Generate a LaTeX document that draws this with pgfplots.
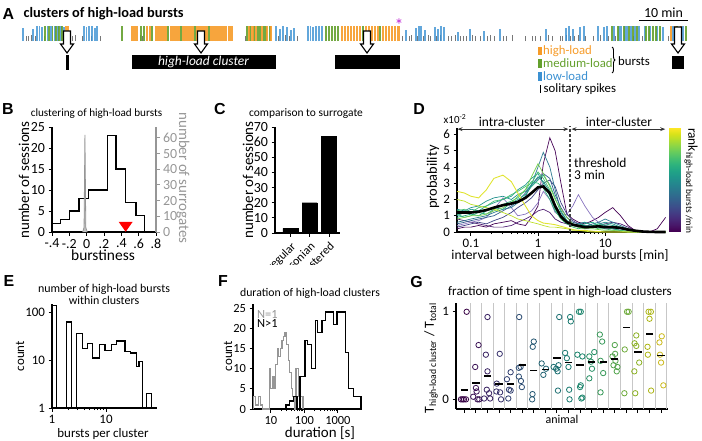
\documentclass[border=0pt]{standalone}
\usepackage{pgfplots}
\pgfplotsset{compat=1.18}
\usepackage{pgfplotstable}
\usetikzlibrary{decorations.pathreplacing,arrows.meta}
\usepackage{fontspec}
\setmainfont{Carlito}
\newfontfamily\panelfont{Liberation Sans}

\definecolor{hiload}{RGB}{246,155,40}
\definecolor{medload}{RGB}{100,160,45}
\definecolor{lowload}{RGB}{60,145,210}
\definecolor{spk}{RGB}{120,120,120}
\definecolor{surr}{RGB}{150,150,150}
\definecolor{star}{RGB}{190,40,210}
\definecolor{vz0}{RGB}{68,1,84}
\definecolor{vz0b}{RGB}{80,30,115}
\definecolor{vz1}{RGB}{135,115,190}
\definecolor{vz2}{RGB}{65,68,135}
\definecolor{vz3}{RGB}{53,95,141}
\definecolor{vz4}{RGB}{42,120,142}
\definecolor{vz5}{RGB}{33,145,140}
\definecolor{vz5b}{RGB}{30,155,138}
\definecolor{vz6}{RGB}{34,168,132}
\definecolor{vz6b}{RGB}{45,180,120}
\definecolor{vz7}{RGB}{68,191,112}
\definecolor{vz8}{RGB}{122,209,81}
\definecolor{vz9}{RGB}{189,223,38}
\definecolor{vz10}{RGB}{225,228,50}

\newcommand\fs[1]{\fontsize{#1}{#1}\selectfont}

\pgfplotsset{
  panel/.style={scale only axis, anchor=south west, axis lines=left,
    axis line style={-, line width=1.1bp}, tick align=outside,
    major tick length=3.5bp, minor tick length=2bp,
    tick style={black, line width=1bp},
    tick label style={font=\fs{14}},
    /pgf/number format/assume math mode=true, clip=false},
}

% panel D: interval distributions, one column per session (values x1e-2)
\pgfplotstableread{
x c0 c0b c1 c2 c3 c4 c5 c5b c6 c6b c7 c8 c9 c10 m
0.062 0.2 0.8 0.4 0.3 0.5 0.6 1.4 1.0 0.9 1.1 1.3 0.8 2.0 2.5 1.2
0.08 0.3 0.7 0.5 0.4 0.6 0.7 1.3 1.2 1.0 0.9 1.4 0.9 1.9 2.4 1.2
0.1 0.3 0.6 0.6 0.5 0.7 0.8 1.5 1.4 1.1 1.0 1.2 1.0 1.7 2.2 1.2
0.13 0.4 0.5 0.7 0.6 0.8 0.9 1.6 1.3 1.0 1.2 1.5 1.0 1.6 2.1 1.25
0.17 0.3 0.4 0.9 0.5 0.9 1.0 1.9 1.6 1.3 1.1 1.6 1.1 1.5 2.6 1.35
0.22 0.5 0.3 1.4 0.7 1.0 1.2 2.1 1.8 1.5 1.4 1.9 1.3 1.4 3.3 1.5
0.3 0.6 0.3 2.1 0.9 1.3 1.4 2.2 2.0 1.4 1.7 2.0 1.5 1.2 3.5 1.65
0.4 0.7 0.4 1.5 1.2 1.6 1.5 2.0 2.2 1.8 1.9 2.3 1.8 1.0 3.1 1.75
0.5 0.5 0.6 1.0 1.5 1.9 1.8 2.3 2.6 2.0 2.1 2.5 2.2 0.8 2.4 1.85
0.65 0.4 0.8 1.1 1.8 2.4 2.2 2.5 2.9 2.3 2.6 2.8 2.6 0.7 1.6 2.1
0.8 0.9 1.0 1.3 2.1 2.9 2.9 2.9 3.3 2.8 3.1 3.0 3.4 0.6 1.0 2.4
1.0 1.6 1.3 1.8 2.6 3.3 4.0 3.4 3.6 3.2 3.0 3.7 4.2 0.5 0.7 2.75
1.2 4.2 1.4 2.5 3.0 3.6 4.9 3.1 3.0 3.5 2.7 3.3 3.6 0.4 0.55 2.8
1.5 5.8 1.2 2.0 3.2 3.3 4.0 2.5 2.2 2.9 2.0 2.6 2.8 0.3 0.5 2.4
1.8 5.0 0.8 1.2 2.8 2.3 2.6 1.7 1.4 2.1 1.3 1.5 2.0 0.3 0.45 1.6
2.2 3.0 0.6 1.0 1.8 1.5 1.3 1.0 0.9 1.2 0.8 0.8 1.4 0.25 0.35 0.95
2.7 1.1 0.5 1.1 1.1 0.9 0.7 0.6 0.6 0.7 0.5 0.5 0.9 0.2 0.25 0.6
3.3 0.8 0.4 1.6 0.7 0.6 0.5 0.4 0.5 0.5 0.4 0.3 0.5 0.1 0.15 0.45
4 0.6 0.3 2.3 0.5 0.5 0.4 0.5 0.4 0.4 0.3 0.2 0.3 0.1 0.1 0.38
5 0.5 0.2 1.6 0.6 0.4 0.3 0.6 0.4 0.5 0.3 0.3 0.2 0.05 0.1 0.3
6.5 0.7 0.3 0.9 0.4 0.3 0.5 0.4 0.3 0.6 0.4 0.3 0.2 0 0.05 0.32
8 0.9 0.4 0.6 0.3 0.4 0.6 0.5 0.3 0.4 0.5 0.2 0.15 0 0.03 0.35
10 1.2 0.5 0.4 0.2 0.3 0.8 0.6 0.4 0.5 0.3 0.2 0.1 0 0 0.3
13 1.5 0.6 0.3 0.2 0.2 0.6 0.5 0.3 0.4 0.2 0.1 0.1 0 0 0.3
17 1.0 0.5 0.2 0.1 0.2 0.4 0.3 0.2 0.3 0.1 0.1 0.05 0 0 0.25
22 0.4 0.3 0.1 0 0.1 0.2 0.1 0.1 0.2 0 0.05 0 0 0 0.15
28 0.1 0.1 0 0 0 0.1 0.05 0 0.1 0 0 0 0 0 0.08
36 0 0 0 0 0 0 0 0 0 0 0 0 0 0 0.03
46 0 0 0 0 0 0 0 0 0 0 0 0 0 0 0.01
60 0.2 0 0 0 0 0 0 0 0 0 0 0 0 0 0
80 0.9 0 0 0 0 0 0 0 0 0 0 0 0 0 0
}\Dtab

\begin{document}
\begin{tikzpicture}
\useasboundingbox (0,0) rectangle (702bp,-441bp);

% ---------------- A: raster ----------------
\begin{axis}[scale only axis, anchor=south west, at={(0bp,-100bp)},
  width=702bp, height=100bp, xmin=0, xmax=702, ymin=-59, ymax=41,
  hide axis, clip=false]
\addplot[ycomb, spk, line width=0.8bp] coordinates {
 (26,5)(28.5,5)(31,6)(35,5)(44,5)(70,6)(72.5,5)(75,6)(82,5)(91,5)(100,5)
 (140,6)(142.5,5)(245,5)(278,5)(285,6)(289,5)(297,5)
 (402,5)(409,5)(411,6)(417,5)(423,5)(428,6)(430,5)(436,5)(440,6)(448,5)
 (451,5)(455,6)(460,5)(463,5)(466,5)(472,6)(475,5)(480,5)(487,5)(490,6)
 (494,5)(503,5)(506,5)(512,6)(525,5)(532,5)(535,5)(540,5)(548,6)(552,5)
 (560,5)(562,5)(566.5,6)(570,5)(574,5)(578,6)(585,5)(593,5)(600,6)(608,5)
 (615,5)(624,6)(633,5)(642,5)(668,5)};
\addplot[ycomb, lowload, line width=1.2bp, opacity=0.8] coordinates {
 (23,13)(33,12)(37,15)(39.5,15)(42,14)(47.5,15)(51,15)(55,15)(58,15)(61,15)(64,14)
 (84,15)(86.5,14)(89,15)(92,15)(95,13)(97,15)
 (276,15)(280,12)(283,15)(287,14)(291,11)(294,13)
 (308,15)(310.5,15)(313,14)(316,15)(319,15)(322,15)
 (406,11)(416,13)(419,15)(421,15)(425,11)(435,14)(438,12)
 (441,15)(444,14)(458,9)(470,12)(484,10)(500,12)
 (546,12)(566,13)(569,15)(573,12)(580,14)(584,15)
 (598,15)(604,14)(607,15)(614,15)(619,15)(621,15)(625,15)
 (627,15)(631,15)(635,15)(639,15)(645,15)(650,15)(657,15)(663,14)
 (673,15)(683,15)};
\addplot[ycomb, medload, line width=1.7bp, opacity=0.9] coordinates {
 (45,15)(49,15)(52.5,15)(56,15)(59,15)(62,15)(122,15)(141,15)(144,15)(152,15)
 (168,15)(181,15)(195,15)(209,15)(247,15)(250,15)(254,15)(258,15)(260,15)
 (264,15)(266,15)(270,15)(326,15)(329,15)(332,15)(335,15)(338,15)(363,15)
 (380,15)(612,15)(618,15)(624,15)(629,15)(633,15)(637,15)(646,15)(649,15)
 (653,15)(656,15)(660,15)(677,15)(686,15)};
\addplot[ycomb, hiload, line width=2.5bp, opacity=0.9] coordinates {
 (66,15)(68,15)(132,15)(134.5,15)(137,15)(147,15)(150,15)(156,15)(158.5,15)
 (161,15)(163.5,15)(166,15)(171,15)(173.5,15)(176,15)(178.5,15)(183,15)
 (185.5,15)(188,15)(190.5,15)(193,15)(197,15)(199.5,15)(202,15)(204.5,15)
 (207,15)(211,15)(213.5,15)(216,15)(218.5,15)(221,15)(223.5,15)(226,15)
 (229,15)(231.5,15)(249,15)(252.5,15)(256,15)(262,15)(267,15)(271,15)
 (342,15)(345,15)(348,15)(351,15)(354,15)(357,15)(360,15)(366,15)(369,15)
 (372,15)(375,15)(378,15)(383,15)(386,15)(389,15)(392,15)(395,15)(398.5,15)
 (671,15)(675,15)(681,15)};
% cluster arrows
\draw[fill=white, line width=1.1bp] (axis cs:63.5,10) -- (axis cs:70.5,10) -- (axis cs:70.5,-3) -- (axis cs:73.5,-3) -- (axis cs:67,-12) -- (axis cs:60.5,-3) -- (axis cs:63.5,-3) -- cycle;
\draw[fill=white, line width=1.1bp] (axis cs:197.5,10) -- (axis cs:204.5,10) -- (axis cs:204.5,-3) -- (axis cs:207.5,-3) -- (axis cs:201,-12) -- (axis cs:194.5,-3) -- (axis cs:197.5,-3) -- cycle;
\draw[fill=white, line width=1.1bp] (axis cs:363.5,10) -- (axis cs:370.5,10) -- (axis cs:370.5,-3) -- (axis cs:373.5,-3) -- (axis cs:367,-12) -- (axis cs:360.5,-3) -- (axis cs:363.5,-3) -- cycle;
\draw[fill=white, line width=1.1bp] (axis cs:674.5,14) -- (axis cs:681.5,14) -- (axis cs:681.5,-3) -- (axis cs:684.5,-3) -- (axis cs:678,-12) -- (axis cs:671.5,-3) -- (axis cs:674.5,-3) -- cycle;
% cluster bars
\fill (axis cs:65.5,-14) rectangle (axis cs:68.5,-28.5);
\fill (axis cs:131.5,-14) rectangle (axis cs:275.5,-28);
\fill (axis cs:335,-14) rectangle (axis cs:400,-28);
\fill (axis cs:672,-15) rectangle (axis cs:684,-28);
\node[white, font=\fs{13.5}\itshape] at (axis cs:203.5,-21) {high-load cluster};
% scale bar and asterisk
\draw[line width=1bp] (axis cs:639,20.3) -- (axis cs:688,20.3);
\node[font=\fs{14}] at (axis cs:663.5,28) {10 min};
\node[star, font=\fs{18}, anchor=base] at (axis cs:399,10) {*};
% legend
\fill[hiload] (axis cs:538.3,-5.7) rectangle (axis cs:541.7,-14);
\fill[medload] (axis cs:538.3,-18.3) rectangle (axis cs:541.7,-26.7);
\fill[lowload] (axis cs:538.3,-30.7) rectangle (axis cs:541.7,-39.7);
\draw[line width=0.9bp] (axis cs:540.5,-44) -- (axis cs:540.5,-52.3);
\node[hiload, anchor=west, font=\fs{12.8}, inner sep=0pt] at (axis cs:543,-9.7) {high-load};
\node[medload, anchor=west, font=\fs{12.8}, inner sep=0pt] at (axis cs:543,-22.5) {medium-load};
\node[lowload, anchor=west, font=\fs{12.8}, inner sep=0pt] at (axis cs:543,-35) {low-load};
\node[anchor=west, font=\fs{12.8}, inner sep=0pt] at (axis cs:543.5,-48.3) {solitary spikes};
\draw[decorate, decoration={brace, amplitude=3bp}, line width=0.9bp] (axis cs:612,-6) -- (axis cs:612,-32);
\node[anchor=west, font=\fs{12.8}, inner sep=0pt] at (axis cs:618,-20.5) {bursts};
\end{axis}

% ---------------- B ----------------
\begin{axis}[panel, at={(52bp,-232bp)}, width=104bp, height=105bp,
  xmin=-0.4, xmax=0.8, ymin=0, ymax=25,
  xtick={-0.4,-0.2,0,0.2,0.4,0.6,0.8}, xticklabels={-.4,-.2,0,.2,.4,.6,.8},
  ytick={0,5,...,25}]
\addplot[black, line width=1.3bp] coordinates {(-0.4,0)(-0.4,2)(-0.3,2)(-0.3,3)
 (-0.2,3)(-0.2,5)(-0.09,5)(-0.09,8)(0.02,8)(0.02,10)(0.24,10)(0.24,23)(0.34,23)
 (0.34,15)(0.45,15)(0.45,7)(0.57,7)(0.57,4)(0.67,4)(0.67,0)};
\addplot[fill=red, draw=none] coordinates {(0.37,2.4)(0.53,2.4)(0.45,0.05)(0.37,2.4)};
\end{axis}
\begin{axis}[panel, at={(52bp,-232bp)}, width=104bp, height=105bp,
  axis x line=none, axis y line*=right, xmin=-0.4, xmax=0.8, xtick=\empty,
  ymin=0, ymax=67, ytick={0,10,...,60},
  y axis line style={surr}, tick style={surr, line width=1bp},
  yticklabel style={surr}]
\addplot[surr, fill=surr!60, line width=0.8bp] coordinates {(-0.046,0)(-0.03,3)
 (-0.02,62)(-0.01,3)(0.006,0)};
\end{axis}

% ---------------- C ----------------
\begin{scope}
\clip (200bp,-100bp) rectangle (420bp,-264bp);
\begin{axis}[panel, at={(275bp,-233bp)}, width=65bp, height=106bp,
  xmin=-0.8, xmax=2.57, ymin=0, ymax=70, ytick={0,10,...,70},
  xtick={0,1,2}, xticklabels={regular,Poissonian,clustered},
  xticklabel style={rotate=45, anchor=north east, font=\fs{12}},
  ybar, bar width=15bp]
\addplot[fill=black, draw=black] coordinates {(0,3)(1,20)(2,64)};
\end{axis}
\end{scope}

% ---------------- D ----------------
\begin{axis}[panel, at={(457bp,-232bp)}, width=209bp, height=104bp,
  xmode=log, xmin=0.062, xmax=81, ymin=0, ymax=6.4, ytick={0,...,6},
  xtick={0.1,1,10}, xticklabels={0.1,1,10}, tick label style={font=\fs{13}}]
\addplot[vz0, line width=0.7bp] table[x=x,y=c0] {\Dtab};
\addplot[vz0b, line width=0.7bp] table[x=x,y=c0b] {\Dtab};
\addplot[vz1, line width=0.7bp] table[x=x,y=c1] {\Dtab};
\addplot[vz2, line width=0.7bp] table[x=x,y=c2] {\Dtab};
\addplot[vz3, line width=0.7bp] table[x=x,y=c3] {\Dtab};
\addplot[vz4, line width=0.7bp] table[x=x,y=c4] {\Dtab};
\addplot[vz5, line width=0.7bp] table[x=x,y=c5] {\Dtab};
\addplot[vz5b, line width=0.7bp] table[x=x,y=c5b] {\Dtab};
\addplot[vz6, line width=0.7bp] table[x=x,y=c6] {\Dtab};
\addplot[vz6b, line width=0.7bp] table[x=x,y=c6b] {\Dtab};
\addplot[vz7, line width=0.7bp] table[x=x,y=c7] {\Dtab};
\addplot[vz8, line width=0.7bp] table[x=x,y=c8] {\Dtab};
\addplot[vz9, line width=0.7bp] table[x=x,y=c9] {\Dtab};
\addplot[vz10, line width=0.9bp] table[x=x,y=c10] {\Dtab};
\addplot[black, line width=2.6bp] table[x=x,y=m] {\Dtab};
\draw[dashed, dash pattern=on 3bp off 2bp, line width=1.1bp, black!75] (axis cs:3,0) -- (axis cs:3,6.55);
\draw[{Stealth[length=5bp]}-{Stealth[length=5bp]}, line width=0.9bp, black!80] (axis cs:0.063,6.33) -- (axis cs:2.85,6.33);
\draw[{Stealth[length=5bp]}-{Stealth[length=5bp]}, line width=0.9bp, black!80] (axis cs:3.15,6.33) -- (axis cs:79,6.33);
\end{axis}
% colour bar of D
\begin{axis}[scale only axis, anchor=south west, at={(669bp,-231bp)},
  width=11bp, height=103bp, xmin=0, xmax=1, ymin=0, ymax=1,
  xtick=\empty, ytick=\empty, colormap/viridis, axis line style={line width=0.9bp}]
\addplot[surf, shader=interp, point meta=explicit, mesh/rows=2] coordinates {
 (0,0) [0] (1,0) [0]
 (0,1) [1] (1,1) [1]};
\end{axis}

% ---------------- E ----------------
\begin{axis}[panel, at={(52bp,-408bp)}, width=105bp, height=104bp,
  xmode=log, ymode=log, xmin=1, xmax=88, ymin=1, ymax=147,
  xtick={1,10}, xticklabels={1,10}, ytick={1,10,100}, yticklabels={1,10,100},
  yminorticks=false, tick label style={font=\fs{13}}]
\addplot[black, line width=1.2bp] coordinates {(1,1)(1,138)(1.22,138)(1.22,1)
 (1.87,1)(1.87,62)(2.32,62)(2.32,1)(2.87,1)(2.87,36)(3.7,36)(3.7,17.6)(4.5,17.6)
 (4.5,22)(5.7,22)(5.7,11)(7.5,11)(7.5,21)(9.6,21)(9.6,16)(12.7,16)(12.7,21)
 (15.8,21)(15.8,25)(22.5,25)(22.5,15)(28.6,15)(28.6,14)(37,14)(37,7.2)(41,7.2)
 (41,9.2)(48,9.2)(48,1)(57,1)(57,2)(70,2)(70,1)};
\end{axis}

% ---------------- F ----------------
\begin{axis}[panel, at={(253bp,-409bp)}, width=109bp, height=105bp,
  xmode=log, xmin=2.9, xmax=5250, ymin=0, ymax=26, ytick={0,5,...,25},
  xtick={10,100,1000}, xticklabels={10,100,1000}, tick label style={font=\fs{12.5}}]
\addplot[surr, line width=1.2bp] coordinates {(2.95,0)(2.95,3)(3.4,3)(3.4,1)
 (4.2,1)(4.2,3)(4.9,3)(4.9,1)(5.6,1)(5.6,0)(8.9,0)(8.9,10)(9.9,10)(9.9,5)(11,5)
 (11,8)(12.3,8)(12.3,5)(13.7,5)(13.7,11)(15.3,11)(15.3,15)(17,15)(17,13)(19,13)
 (19,15)(21.2,15)(21.2,17)(23.6,17)(23.6,18)(26.3,18)(26.3,19)(29.3,19)(29.3,16)
 (32.6,16)(32.6,12)(36.3,12)(36.3,9)(40.5,9)(40.5,5)(45,5)(45,3)(50,3)(50,0)
 (56,0)(56,10)(68,10)(68,3)(90,3)(90,0)};
\addplot[black, line width=1.2bp] coordinates {(28,0)(28,1)(36,1)(36,2)(46,2)
 (46,3)(60,3)(60,0)(74,0)(74,8)(104,8)(104,17)(123,17)(123,16)(166,16)(166,10)
 (209,10)(209,22)(246,22)(246,19)(333,19)(333,22)(417,22)(417,24)(746,24)
 (746,21)(940,21)(940,24)(1670,24)(1670,14)(2100,14)(2100,5)(2970,5)(2970,3)
 (4900,3)(4900,0)};
\end{axis}

% ---------------- G ----------------
\begin{axis}[panel, at={(456bp,-409bp)}, width=212bp, height=106bp,
  xmin=0.28, xmax=18.6, ymin=-0.11, ymax=1.1, ytick={0,1},
  xtick={1,...,18}, xticklabels={},
  extra x ticks={1.5,2.5,...,18.5}, extra x tick labels={},
  extra x tick style={grid=major, major tick length=0pt},
  major grid style={black!22, line width=1bp},
  colormap/viridis, point meta min=1, point meta max=18, tick label style={font=\fs{13}}]
\addplot[scatter, only marks, mark=o, mark size=2.7bp, scatter src=explicit,
  mark options={line width=0.8bp}] table[x=x, y=y, meta=a] {
x y a
0.71 0.0 1
0.85 0.0 1
0.97 0.0 1
1.14 0.0 1
1.2 1.0 1
1.94 0.37 2
2.0 0.13 2
2.06 0.09 2
2.14 0.0 2
1.77 0.03 2
2.23 0.62 2
2.29 0.0 2
3.0 0.94 3
2.86 0.51 3
3.0 0.32 3
2.94 0.11 3
3.14 0.07 3
2.71 0.01 3
3.23 0.01 3
4.06 0.52 4
3.8 0.18 4
3.77 0.09 4
4.09 0.08 4
4.17 0.0 4
5.0 0.31 5
4.68 0.23 5
4.86 0.11 5
5.0 0.10 5
4.8 0.01 5
5.74 0.94 6
5.71 0.36 6
5.86 0.37 6
5.89 0.21 6
5.97 0.14 6
5.71 0.26 6
7.0 0.66 7
6.91 0.6 7
6.89 0.06 7
6.86 0.0 7
7.68 0.41 8
7.83 0.28 8
8.06 0.35 8
8.71 0.37 9
8.94 0.35 9
9.14 0.39 9
9.06 0.32 9
9.09 0.1 9
9.2 0.94 9
9.71 0.53 10
9.86 0.47 10
10.0 0.37 10
10.14 0.94 10
10.2 0.89 10
10.06 0.11 10
10.09 0.0 10
10.77 0.51 11
10.91 1.0 11
11.06 1.0 11
11.2 0.49 11
11.06 0.16 11
11.0 0.14 11
11.11 0.01 11
11.2 0.02 11
11.8 0.49 12
11.94 0.43 12
12.03 0.35 12
12.23 0.54 12
11.8 0.24 12
12.71 0.74 13
12.91 0.66 13
12.77 0.44 13
13.0 0.3 13
12.77 0.08 13
14.0 0.62 14
13.8 0.49 14
14.06 0.44 14
14.23 0.37 14
14.17 0.32 14
13.89 0.39 14
14.03 0.52 14
15.06 1.0 15
15.2 1.0 15
14.86 0.57 15
14.83 0.07 15
15.71 0.64 16
15.86 0.73 16
16.11 0.42 16
15.69 0.32 16
15.77 0.07 16
15.86 0.61 16
16.92 1.0 17
17.12 1.0 17
16.83 0.6 17
16.86 0.51 17
17.14 0.1 17
17.0 0.92 17
17.86 0.65 18
18.06 0.72 18
17.91 0.51 18
18.0 0.42 18
18.2 0.16 18
};
\addplot[only marks, mark=-, mark size=3.6bp, mark options={line width=1.8bp}] coordinates {
 (1,0.11)(2,0.19)(3,0.27)(4,0.18)(5,0.18)(6,0.39)(7,0.33)(8,0.34)(9,0.47)
 (10,0.42)(11,0.39)(12,0.43)(13,0.43)(14,0.46)(15,0.82)(16,0.54)(17,0.75)(18,0.5)};
\end{axis}

% ---------------- letters, titles, labels ----------------
\node[font=\panelfont\bfseries\fs{16}] at (8.5bp,-14bp) {A};
\node[font=\panelfont\bfseries\fs{16}] at (8bp,-109bp) {B};
\node[font=\panelfont\bfseries\fs{16}] at (220bp,-109bp) {C};
\node[font=\panelfont\bfseries\fs{16}] at (419bp,-109bp) {D};
\node[font=\panelfont\bfseries\fs{16}] at (9bp,-281.5bp) {E};
\node[font=\panelfont\bfseries\fs{16}] at (223bp,-281.5bp) {F};
\node[font=\panelfont\bfseries\fs{16}] at (416.5bp,-282bp) {G};
\node[anchor=west, font=\fs{14.4}\bfseries] at (20bp,-14bp) {clusters of high-load bursts};

\node[font=\fs{11.2}] at (96.5bp,-114bp) {clustering of high-load bursts};
\node[rotate=90, font=\fs{15}] at (24bp,-180bp) {number of sessions};
\node[rotate=-90, surr, font=\fs{15}] at (183bp,-178bp) {number of surrogates};
\node[font=\fs{15.5}] at (103bp,-255bp) {burstiness};

\node[font=\fs{11.5}] at (306bp,-114bp) {comparison to surrogate};
\node[rotate=90, font=\fs{15}] at (248bp,-180bp) {number of sessions};

\node[font=\fs{11}] at (455bp,-119bp) {x10\textsuperscript{-2}};
\node[rotate=90, font=\fs{14.5}] at (433bp,-177bp) {probability};
\node[font=\fs{13.6}] at (560bp,-256bp) {interval between high-load bursts [min]};
\node[font=\fs{13.5}] at (512bp,-121.7bp) {intra-cluster};
\node[font=\fs{13.5}] at (619bp,-122bp) {inter-cluster};
\node[anchor=west, inner sep=0pt, font=\fs{13.5}] at (574bp,-163.3bp) {threshold};
\node[anchor=west, inner sep=0pt, font=\fs{13.5}] at (574bp,-175bp) {3 min};
\node[rotate=-90, anchor=west, inner sep=0pt, font=\fs{13.4}] at (691bp,-128bp) {rank\textsubscript{high-load bursts /min}};

\node[font=\fs{12}] at (104bp,-289bp) {number of high-load bursts};
\node[font=\fs{12}] at (104bp,-300.5bp) {within clusters};
\node[rotate=90, font=\fs{13}] at (20bp,-356bp) {count};
\node[font=\fs{13}] at (103bp,-434bp) {bursts per cluster};

\node[font=\fs{11.8}] at (310bp,-293bp) {duration of high-load clusters};
\node[rotate=90, font=\fs{13}] at (228bp,-356bp) {count};
\node[font=\fs{15}] at (320bp,-433bp) {duration [s]};
\node[anchor=west, inner sep=0pt, surr, font=\fs{12.5}] at (257bp,-314bp) {N=1};
\node[anchor=west, inner sep=0pt, font=\fs{12.5}] at (257bp,-323.5bp) {N>1};

\node[font=\fs{13.1}] at (560bp,-292bp) {fraction of time spent in high-load clusters};
\node[rotate=90, font=\fs{13.9}] at (431bp,-358bp) {T\textsubscript{high-load cluster} / T\textsubscript{total}};
\node[font=\fs{12}] at (562bp,-419bp) {animal};
\end{tikzpicture}
\end{document}
